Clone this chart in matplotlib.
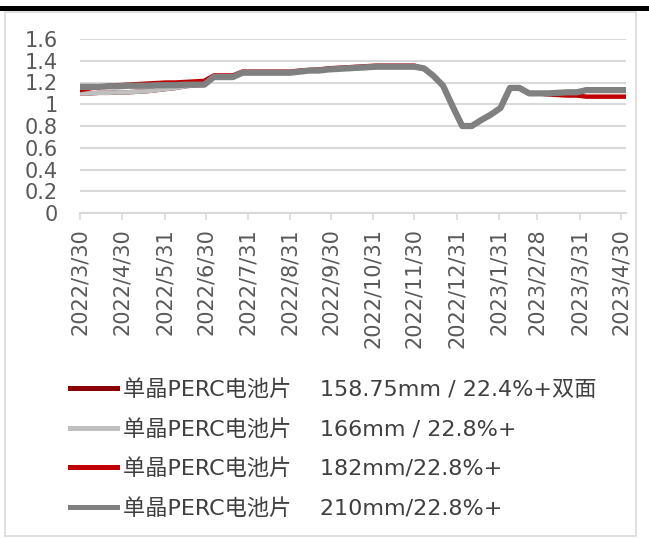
import numpy as np
import pandas as pd
import matplotlib
matplotlib.use("Agg")
import matplotlib.pyplot as plt
from matplotlib.patches import Rectangle

plt.rcParams['font.family'] = ['DejaVu Sans', 'Noto Sans CJK SC']

# weekly cell prices, RMB/W
dates = pd.date_range("2022-03-30", periods=58, freq="7D")

p158 = [1.10, 1.10, 1.105, 1.105, 1.11, 1.11, 1.115, 1.12, 1.13, 1.14, 1.15, 1.165, 1.175, 1.18,
        1.25, 1.25, 1.25,
        1.29, 1.29, 1.29, 1.29, 1.29, 1.29,
        1.30, 1.31, 1.31, 1.32, 1.325, 1.33, 1.335, 1.34, 1.345, 1.345, 1.345, 1.345, 1.345,
        1.33, 1.26, 1.17, 0.98, 0.80, 0.80, 0.855, 0.905, 0.965,
        1.15, 1.15, 1.10, 1.10, 1.10, 1.105, 1.11, 1.11, 1.13, 1.13, 1.13, 1.13, 1.13]
p166 = [1.10, 1.10, 1.105, 1.105, 1.11, 1.11, 1.115, 1.12, 1.13, 1.14, 1.15, 1.165, 1.175, 1.18,
        1.25, 1.25, 1.25,
        1.29, 1.29, 1.29, 1.29, 1.29, 1.29,
        1.30, 1.31, 1.31, 1.32, 1.325, 1.33, 1.335, 1.34, 1.345, 1.345, 1.345, 1.345, 1.345,
        1.33, 1.26, 1.17, 0.98, 0.80, 0.80, 0.855, 0.905, 0.965,
        1.15, 1.15, 1.10, 1.10, 1.10, 1.105, 1.11, 1.11, 1.13, 1.13, 1.13, 1.13, 1.13]
p182 = [1.13, 1.145, 1.16, 1.17, 1.175, 1.18, 1.185, 1.19, 1.195, 1.20, 1.20, 1.205, 1.21, 1.215,
        1.265, 1.265, 1.265,
        1.30, 1.30, 1.30, 1.30, 1.30, 1.30,
        1.31, 1.315, 1.32, 1.33, 1.335, 1.34, 1.345, 1.35, 1.355, 1.355, 1.355, 1.355, 1.355,
        1.33, 1.26, 1.17, 0.98, 0.80, 0.80, 0.855, 0.905, 0.965,
        1.15, 1.15, 1.10, 1.10, 1.09, 1.085, 1.08, 1.08, 1.07, 1.07, 1.07, 1.07, 1.07]
p210 = [1.16, 1.16, 1.16, 1.165, 1.165, 1.17, 1.17, 1.17, 1.175, 1.175, 1.175, 1.18, 1.18, 1.18,
        1.25, 1.25, 1.25,
        1.29, 1.29, 1.29, 1.29, 1.29, 1.29,
        1.30, 1.31, 1.31, 1.32, 1.325, 1.33, 1.335, 1.34, 1.345, 1.345, 1.345, 1.345, 1.345,
        1.33, 1.26, 1.17, 0.98, 0.80, 0.80, 0.855, 0.905, 0.965,
        1.15, 1.15, 1.10, 1.10, 1.10, 1.105, 1.11, 1.11, 1.13, 1.13, 1.13, 1.13, 1.13]

labels = ["单晶PERC电池片    158.75mm / 22.4%+双面",
          "单晶PERC电池片    166mm / 22.8%+",
          "单晶PERC电池片    182mm/22.8%+",
          "单晶PERC电池片    210mm/22.8%+"]
colors = ["#8B0000", "#BFBFBF", "#C00000", "#808080"]
widths = [3.2, 3.2, 3.2, 4.5]

tick_dates = pd.to_datetime(["2022-03-30", "2022-04-30", "2022-05-31", "2022-06-30",
                             "2022-07-31", "2022-08-31", "2022-09-30", "2022-10-31",
                             "2022-11-30", "2022-12-31", "2023-01-31", "2023-02-28",
                             "2023-03-31", "2023-04-30"])
tick_labels = ["2022/3/30", "2022/4/30", "2022/5/31", "2022/6/30", "2022/7/31",
               "2022/8/31", "2022/9/30", "2022/10/31", "2022/11/30", "2022/12/31",
               "2023/1/31", "2023/2/28", "2023/3/31", "2023/4/30"]

W, H = 649, 538
fig = plt.figure(figsize=(W / 100, H / 100), dpi=100)

# frame and top rule
fig.patches.append(Rectangle((0, 1 - 11 / H), 1, 5 / H, transform=fig.transFigure,
                             facecolor="black", edgecolor="none"))
fig.patches.append(Rectangle((5 / W, 2 / H), 631 / W, 1 - 14 / H, transform=fig.transFigure,
                             facecolor="none", edgecolor="#D9D9D9", lw=1.2))

ax = fig.add_axes([80 / W, (H - 213) / H, (626 - 80) / W, (213 - 39) / H])
for vals, lab, c, lw in zip([p158, p166, p182, p210], labels, colors, widths):
    ax.plot(dates, vals, color=c, lw=lw, label=lab, solid_joinstyle="round")

ax.set_ylim(0, 1.6)
ax.set_xlim(pd.Timestamp("2022-03-30"), pd.Timestamp("2023-05-04"))
ax.set_yticks(np.arange(0, 1.61, 0.2))
ax.set_yticklabels(["0", "0.2", "0.4", "0.6", "0.8", "1", "1.2", "1.4", "1.6"])
ax.set_xticks(tick_dates)
ax.set_xticklabels(tick_labels, rotation=90)
ax.grid(axis="y", color="#D9D9D9", lw=1.5)
ax.set_axisbelow(True)
for s in ["top", "right", "left"]:
    ax.spines[s].set_visible(False)
ax.spines["bottom"].set_color("#D9D9D9")
ax.spines["bottom"].set_linewidth(1.5)
ax.tick_params(axis="y", length=0, pad=16, labelsize=15, labelcolor="#595959")
ax.tick_params(axis="x", length=5, width=1.2, color="#D9D9D9", pad=6,
               labelsize=15, labelcolor="#595959")

leg = fig.legend(loc="upper left", bbox_to_anchor=(70 / W, 1 - 379 / H), frameon=False,
                 fontsize=16, labelcolor="#404040", handlelength=2.1, handletextpad=0.3,
                 labelspacing=0.85, borderpad=0, borderaxespad=0)
for h in leg.get_lines():
    h.set_linewidth(3.6)

fig.savefig("out.png", dpi=100)
